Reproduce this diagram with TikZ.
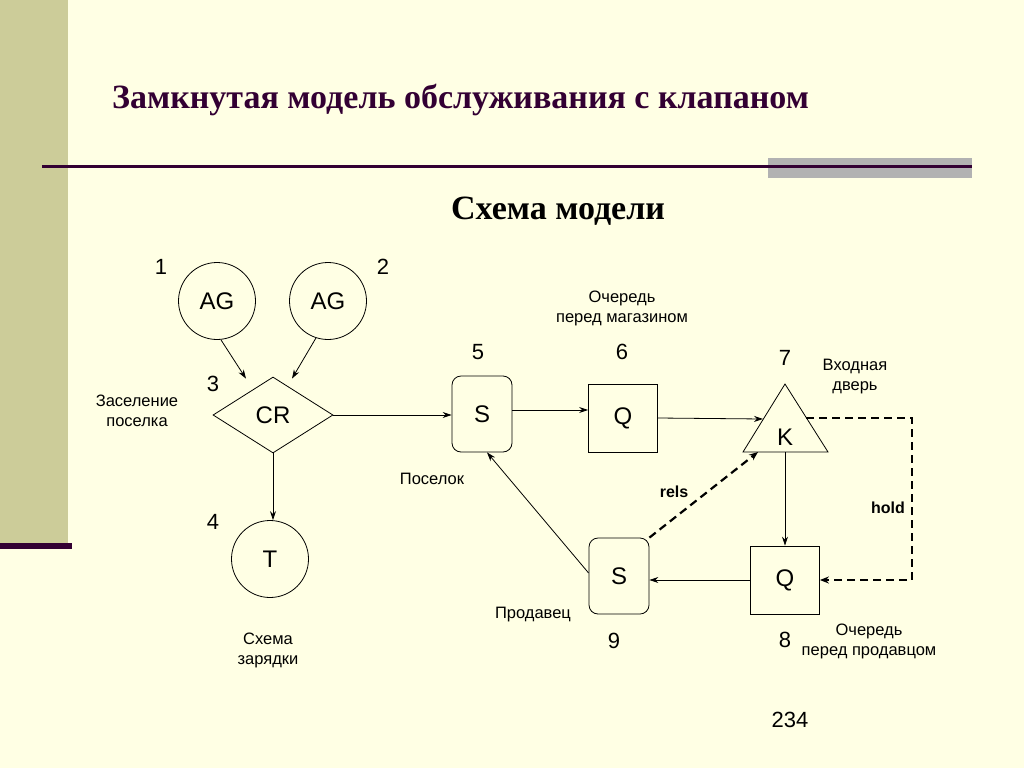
\documentclass[tikz,border=0pt]{standalone}
\usepackage{fontspec}
\setmainfont{Liberation Serif}
\setsansfont{Liberation Sans}
\usetikzlibrary{shapes.geometric,arrows.meta}
\definecolor{bgc}{RGB}{255,255,228}
\definecolor{stripc}{RGB}{204,204,153}
\definecolor{darkp}{RGB}{51,0,51}
\definecolor{grayr}{RGB}{178,178,178}
\begin{document}
\begin{tikzpicture}[x=1pt,y=-1pt,
  num/.style={font=\sffamily\fontsize{22}{24}\selectfont, inner sep=0pt},
  note/.style={font=\sffamily\fontsize{16.5}{20}\selectfont, align=center, inner sep=0pt},
  bnote/.style={font=\sffamily\bfseries\fontsize{16}{20}\selectfont, inner sep=0pt},
  circ/.style={circle, draw, line width=0.8pt, minimum size=77pt, inner sep=0pt, font=\sffamily\fontsize{24}{26}\selectfont},
  sbox/.style={rectangle, rounded corners=9pt, draw, line width=0.8pt, minimum width=60pt, minimum height=76pt, inner sep=0pt, font=\sffamily\fontsize{24}{26}\selectfont},
  qbox/.style={rectangle, draw, line width=0.8pt, minimum width=69pt, minimum height=68pt, inner sep=0pt, font=\sffamily\fontsize{24}{26}\selectfont},
  dia/.style={diamond, draw, line width=0.8pt, minimum width=120pt, minimum height=76pt, inner sep=0pt, font=\sffamily\fontsize{24}{26}\selectfont},
  arr/.style={-{Stealth[length=9pt,width=6pt]}, line width=0.8pt},
  darr/.style={-{Stealth[length=9pt,width=7pt]}, line width=2.2pt, dash pattern=on 8pt off 5pt},
]
\useasboundingbox (0,0) rectangle (1024,768);
\fill[bgc] (0,0) rectangle (1024,768);
\fill[stripc] (0,0) rectangle (68,543);
\fill[darkp] (0,543) rectangle (72,549);
\fill[grayr] (768,158) rectangle (972,178);
\fill[darkp] (42,165) rectangle (972,168);

\node[font=\bfseries\fontsize{34}{40}\selectfont, text=darkp, anchor=base west, inner sep=0pt] (title) at (112,108) {Замкнутая модель обслуживания с клапаном};
\node[font=\bfseries\fontsize{34}{40}\selectfont, text=black, anchor=base, inner sep=0pt] (sub) at (558,219) {Схема модели};

% nodes
\node[circ] (ag1) at (217,301) {AG};
\node[circ] (ag2) at (328,301) {AG};
\node[dia] (cr) at (273,415) {CR};
\node[circ] (t) at (270,559) {T};
\node[sbox] (s5) at (482,414) {S};
\node[qbox] (q6) at (623,418) {Q};
\node[sbox] (s9) at (619,576) {S};
\node[qbox] (q8) at (785,580) {Q};

% triangle K
\coordinate (ka) at (785,384);
\coordinate (kl) at (743,452);
\coordinate (kr) at (828,452);
\draw[line width=0.8pt] (ka) -- (kl) -- (kr) -- cycle;
\node[font=\sffamily\fontsize{24}{26}\selectfont, inner sep=0pt] (k) at (785,437) {K};
\coordinate (kin) at (763,419);
\coordinate (kout) at (806,418);
\coordinate (kbot) at (785,452);
\coordinate (krels) at (758,452);
\coordinate (hc1) at (912,418);
\coordinate (hc2) at (912,580);

% numbers
\node[num] (n1) at (161,267) {1};
\node[num] (n2) at (383,267) {2};
\node[num] (n3) at (213,384) {3};
\node[num] (n4) at (213,522) {4};
\node[num] (n5) at (478,352) {5};
\node[num] (n6) at (622,352) {6};
\node[num] (n7) at (785,358) {7};
\node[num] (n8) at (785,640) {8};
\node[num] (n9) at (614,641) {9};
\node[num] (n234) at (790,720) {234};

% notes
\node[note] (zas) at (137,411) {Заселение\\поселка};
\node[note] (och1) at (622,308) {Очередь\\перед магазином};
\node[note] (vh) at (855,377) {Входная\\дверь};
\node[note] (pos) at (432,479) {Поселок};
\node[note] (prod) at (533,615) {Продавец};
\node[note] (och2) at (869,641) {Очередь\\перед продавцом};
\node[note] (zar) at (268,650) {Схема\\зарядки};
\node[bnote] (rels) at (674,492) {rels};
\node[bnote] (hold) at (888,508) {hold};

% connectors
\draw[arr] (ag1.south) ++(4,0) -- ([xshift=-27pt,yshift=-2pt]cr.north);
\draw[arr] ([xshift=-12pt,yshift=2pt]ag2.south) -- ([xshift=19pt,yshift=-2pt]cr.north);
\draw[arr] (cr.east) -- (cr.east -| s5.west);
\draw[arr] (cr.south) -- (cr.south |- t.north);
\draw[arr] ([yshift=4pt]s5.east) -- ([yshift=4pt]s5.east -| q6.west);
\draw[arr] (q6.east) -- (kin);
\draw[arr] (kbot) -- (kbot |- q8.north);
\draw[arr] (q8.west) -- (q8.west -| s9.east);
\draw[arr] ([yshift=3pt]s9.west) -- ([xshift=5pt]s5.south);
\draw[darr] (s9.north east) -- (krels);
\draw[darr] (kout) -- (hc1) -- (hc2) -- (q8.east);
\end{tikzpicture}
\end{document}
